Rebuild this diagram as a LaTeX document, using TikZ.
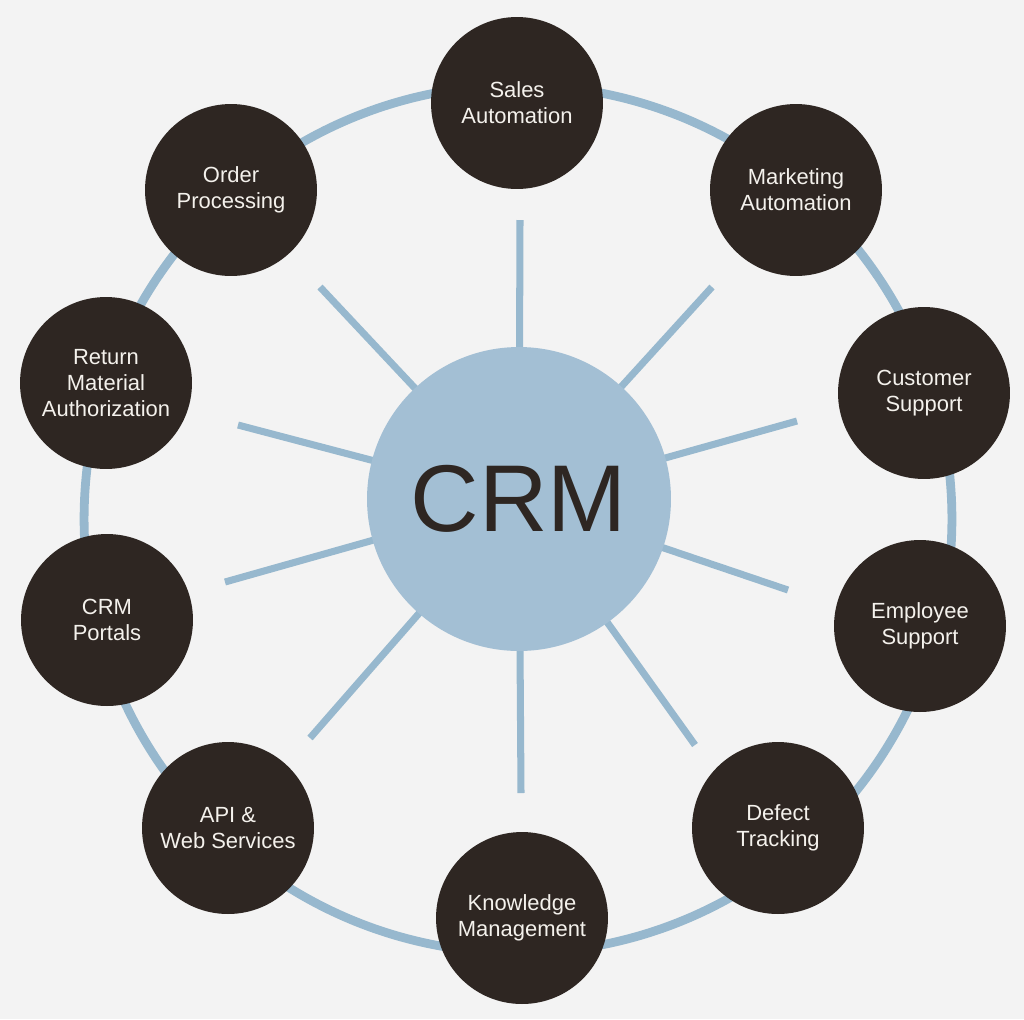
\documentclass[tikz,border=0pt]{standalone}
\usepackage{fontspec}
\setmainfont{Liberation Sans}
\definecolor{pagebg}{HTML}{F3F3F3}
\definecolor{ringblue}{HTML}{97B8CE}
\definecolor{hubblue}{HTML}{A3BFD4}
\definecolor{darkbrown}{HTML}{2E2622}
\definecolor{offwhite}{HTML}{F4F1EC}
\begin{document}
\begin{tikzpicture}[x=0.02cm,y=-0.02cm,
ring/.style={draw=ringblue,line width=5pt},
spoke/.style={draw=ringblue,line width=4pt},
hub/.style={circle,fill=hubblue,minimum size=6.08cm,inner sep=0pt,text=darkbrown,font=\fontsize{54}{60}\selectfont},
topic/.style={circle,fill=darkbrown,minimum size=3.44cm,inner sep=0pt,align=center,text=offwhite,font=\fontsize{12.5}{14.8}\selectfont}]
\fill[pagebg] (0,0) rectangle (1024,1019);
\draw[ring] (518,519) circle[radius=8.68cm];
\coordinate (hubc) at (519,499);
\foreach \x/\y [count=\i] in {520/220,712/287,797/421,788/590,695/745,521/793,310/738,225/582,238/425,320/287}
{\coordinate (s\i) at (\x,\y); \draw[spoke] (hubc) -- (s\i);}
\node[hub] (crm) at (hubc) {CRM};
\node[topic] (sales) at (517,103) {Sales\\Automation};
\node[topic] (mkt) at (796,190) {Marketing\\Automation};
\node[topic] (cust) at (924,393) {Customer\\Support};
\node[topic] (empl) at (920,626) {Employee\\Support};
\node[topic] (defect) at (778,828) {Defect\\Tracking};
\node[topic] (know) at (522,918) {Knowledge\\Management};
\node[topic] (api) at (228,828) {API \&\\Web Services};
\node[topic] (portal) at (107,620) {CRM\\Portals};
\node[topic] (rma) at (106,383) {Return\\Material\\Authorization};
\node[topic] (order) at (231,190) {Order\\Processing};
\end{tikzpicture}
\end{document}
